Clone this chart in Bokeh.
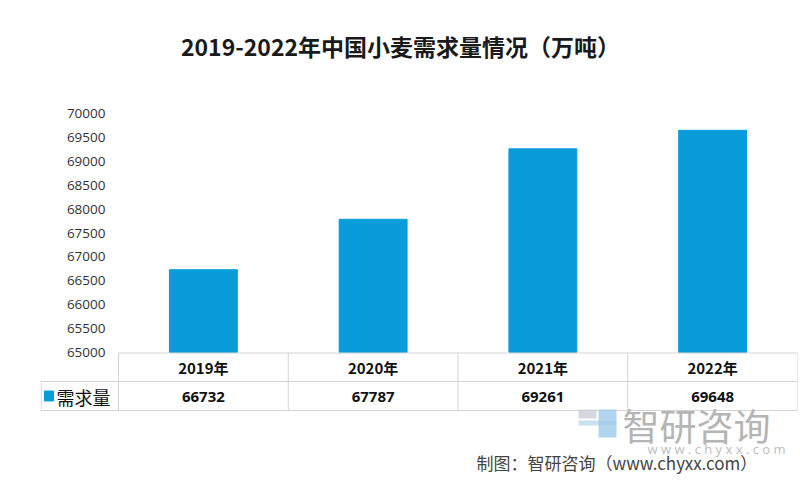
from bokeh.plotting import figure
from bokeh.models import Range1d, FixedTicker, ColumnDataSource
from bokeh.embed import file_html
from bokeh.resources import INLINE
from bokeh.core.properties import value

# ---- data ----
years = ["2019年", "2020年", "2021年", "2022年"]
demand = [66732, 67787, 69261, 69648]
series_name = "需求量"
title_text = "2019-2022年中国小麦需求量情况（万吨）"
y_ticks = [65000, 65500, 66000, 66500, 67000, 67500, 68000, 68500, 69000, 69500, 70000]
source_text = "制图：智研咨询（www.chyxx.com）"

BAR = "#089cdb"
GRID = "#d4d4d4"
FONT = "Open Sans"
CJK = "Noto Sans CJK SC"

# ---- layout geometry (pixels) ----
W, H = 800, 482
LEFT, RIGHT = 40, 3
COL0 = 118                      # left edge of first category column
PLOT_TOP, PLOT_BOT = 113, 352   # pixel rows of 70000 and 65000
n = len(years)
col_w = (W - RIGHT - COL0) / n
leg_w = (COL0 - LEFT) / col_w
y0, y1 = y_ticks[0], y_ticks[-1]
per_px = (y1 - y0) / (PLOT_BOT - PLOT_TOP)


def ux(px):
    return (px - COL0) / col_w


def vy(py):
    return y0 + (PLOT_BOT - py) * per_px


p = figure(width=W, height=H, x_range=Range1d(-leg_w, n),
           y_range=Range1d(vy(H), vy(0)), output_backend="svg",
           toolbar_location=None, x_axis_location=None,
           min_border_left=LEFT, min_border_right=RIGHT, min_border_top=0,
           min_border_bottom=0)
p.outline_line_color = None
p.grid.grid_line_color = None
p.background_fill_color = "white"
p.border_fill_color = "white"

ax = p.yaxis[0]
ax.ticker = FixedTicker(ticks=y_ticks)
ax.axis_line_color = None
ax.major_tick_line_color = None
ax.minor_tick_line_color = None
ax.major_tick_out = 0
ax.major_tick_in = 0
ax.major_label_text_font = FONT
ax.major_label_text_font_size = "13.5px"
ax.major_label_text_color = "#333333"
ax.major_label_standoff = -(105 - LEFT)

# bars
centers = [i + 0.5 for i in range(n)]
src = ColumnDataSource(dict(x=centers, top=demand, year=years))
p.vbar(x="x", top="top", bottom=y0, width=0.4, source=src,
       fill_color=BAR, line_color=BAR)

# title
p.text(x=[ux(400)], y=[vy(45)], text=[title_text], text_font=value(CJK),
       text_font_size="23px", text_font_style="bold", text_color="#1a1a1a",
       text_align="center", text_baseline="middle")

# ---- table ----
r0, r1, r2 = vy(352.5), vy(381), vy(410)
p.segment(x0=[0, -leg_w, -leg_w], x1=[n, n, n], y0=[r0, r1, r2], y1=[r0, r1, r2],
          line_color=GRID, line_width=1)
xs = list(range(n + 1))
p.segment(x0=xs, x1=xs, y0=[r0] * (n + 1), y1=[r2] * (n + 1), line_color=GRID, line_width=1)
p.segment(x0=[-leg_w + 0.004], x1=[-leg_w + 0.004], y0=[r1], y1=[r2], line_color=GRID)

p.text(x=centers, y=[vy(367)] * n, text=years, text_font=value(CJK),
       text_font_size="15px", text_font_style="bold", text_color="#111111",
       text_align="center", text_baseline="middle")
p.text(x=centers, y=[vy(396)] * n, text=[str(v) for v in demand],
       text_font=value(FONT), text_font_size="15px", text_font_style="bold",
       text_color="#111111", text_align="center", text_baseline="middle")

# legend key in table
p.rect(x=[ux(48.5)], y=[vy(395.5)], width=9, height=10, width_units="screen",
       height_units="screen", fill_color=BAR, line_color=BAR)
p.text(x=[ux(56)], y=[vy(396)], text=[series_name], text_font=value(CJK),
       text_font_size="18px", text_color="#111111", text_align="left",
       text_baseline="middle")

# watermark
p.quad(left=[ux(578), ux(578), ux(598)], right=[ux(596), ux(616), ux(616)],
       top=[vy(409), vy(420), vy(409)], bottom=[vy(418), vy(425), vy(437)],
       fill_color=["#c9cfd8", "#b9d9ee", "#9fcbe8"], line_color=None, fill_alpha=0.8)
p.text(x=[ux(622)], y=[vy(424)], text=["智研咨询"], text_font=value(CJK),
       text_font_size="37px", text_color="#b5b5b5", text_align="left",
       text_baseline="middle")
p.text(x=[ux(647)], y=[vy(448)], text=["w w w . c h y x x . c o m"], text_font=value(FONT),
       text_font_size="13px", text_color="#bdbdbd", text_align="left",
       text_baseline="middle")
p.text(x=[ux(476)], y=[vy(462)], text=[source_text], text_font=value(CJK),
       text_font_size="17px", text_color="#444444", text_align="left",
       text_baseline="middle")

open("out.html", "w").write(file_html(p, INLINE))
